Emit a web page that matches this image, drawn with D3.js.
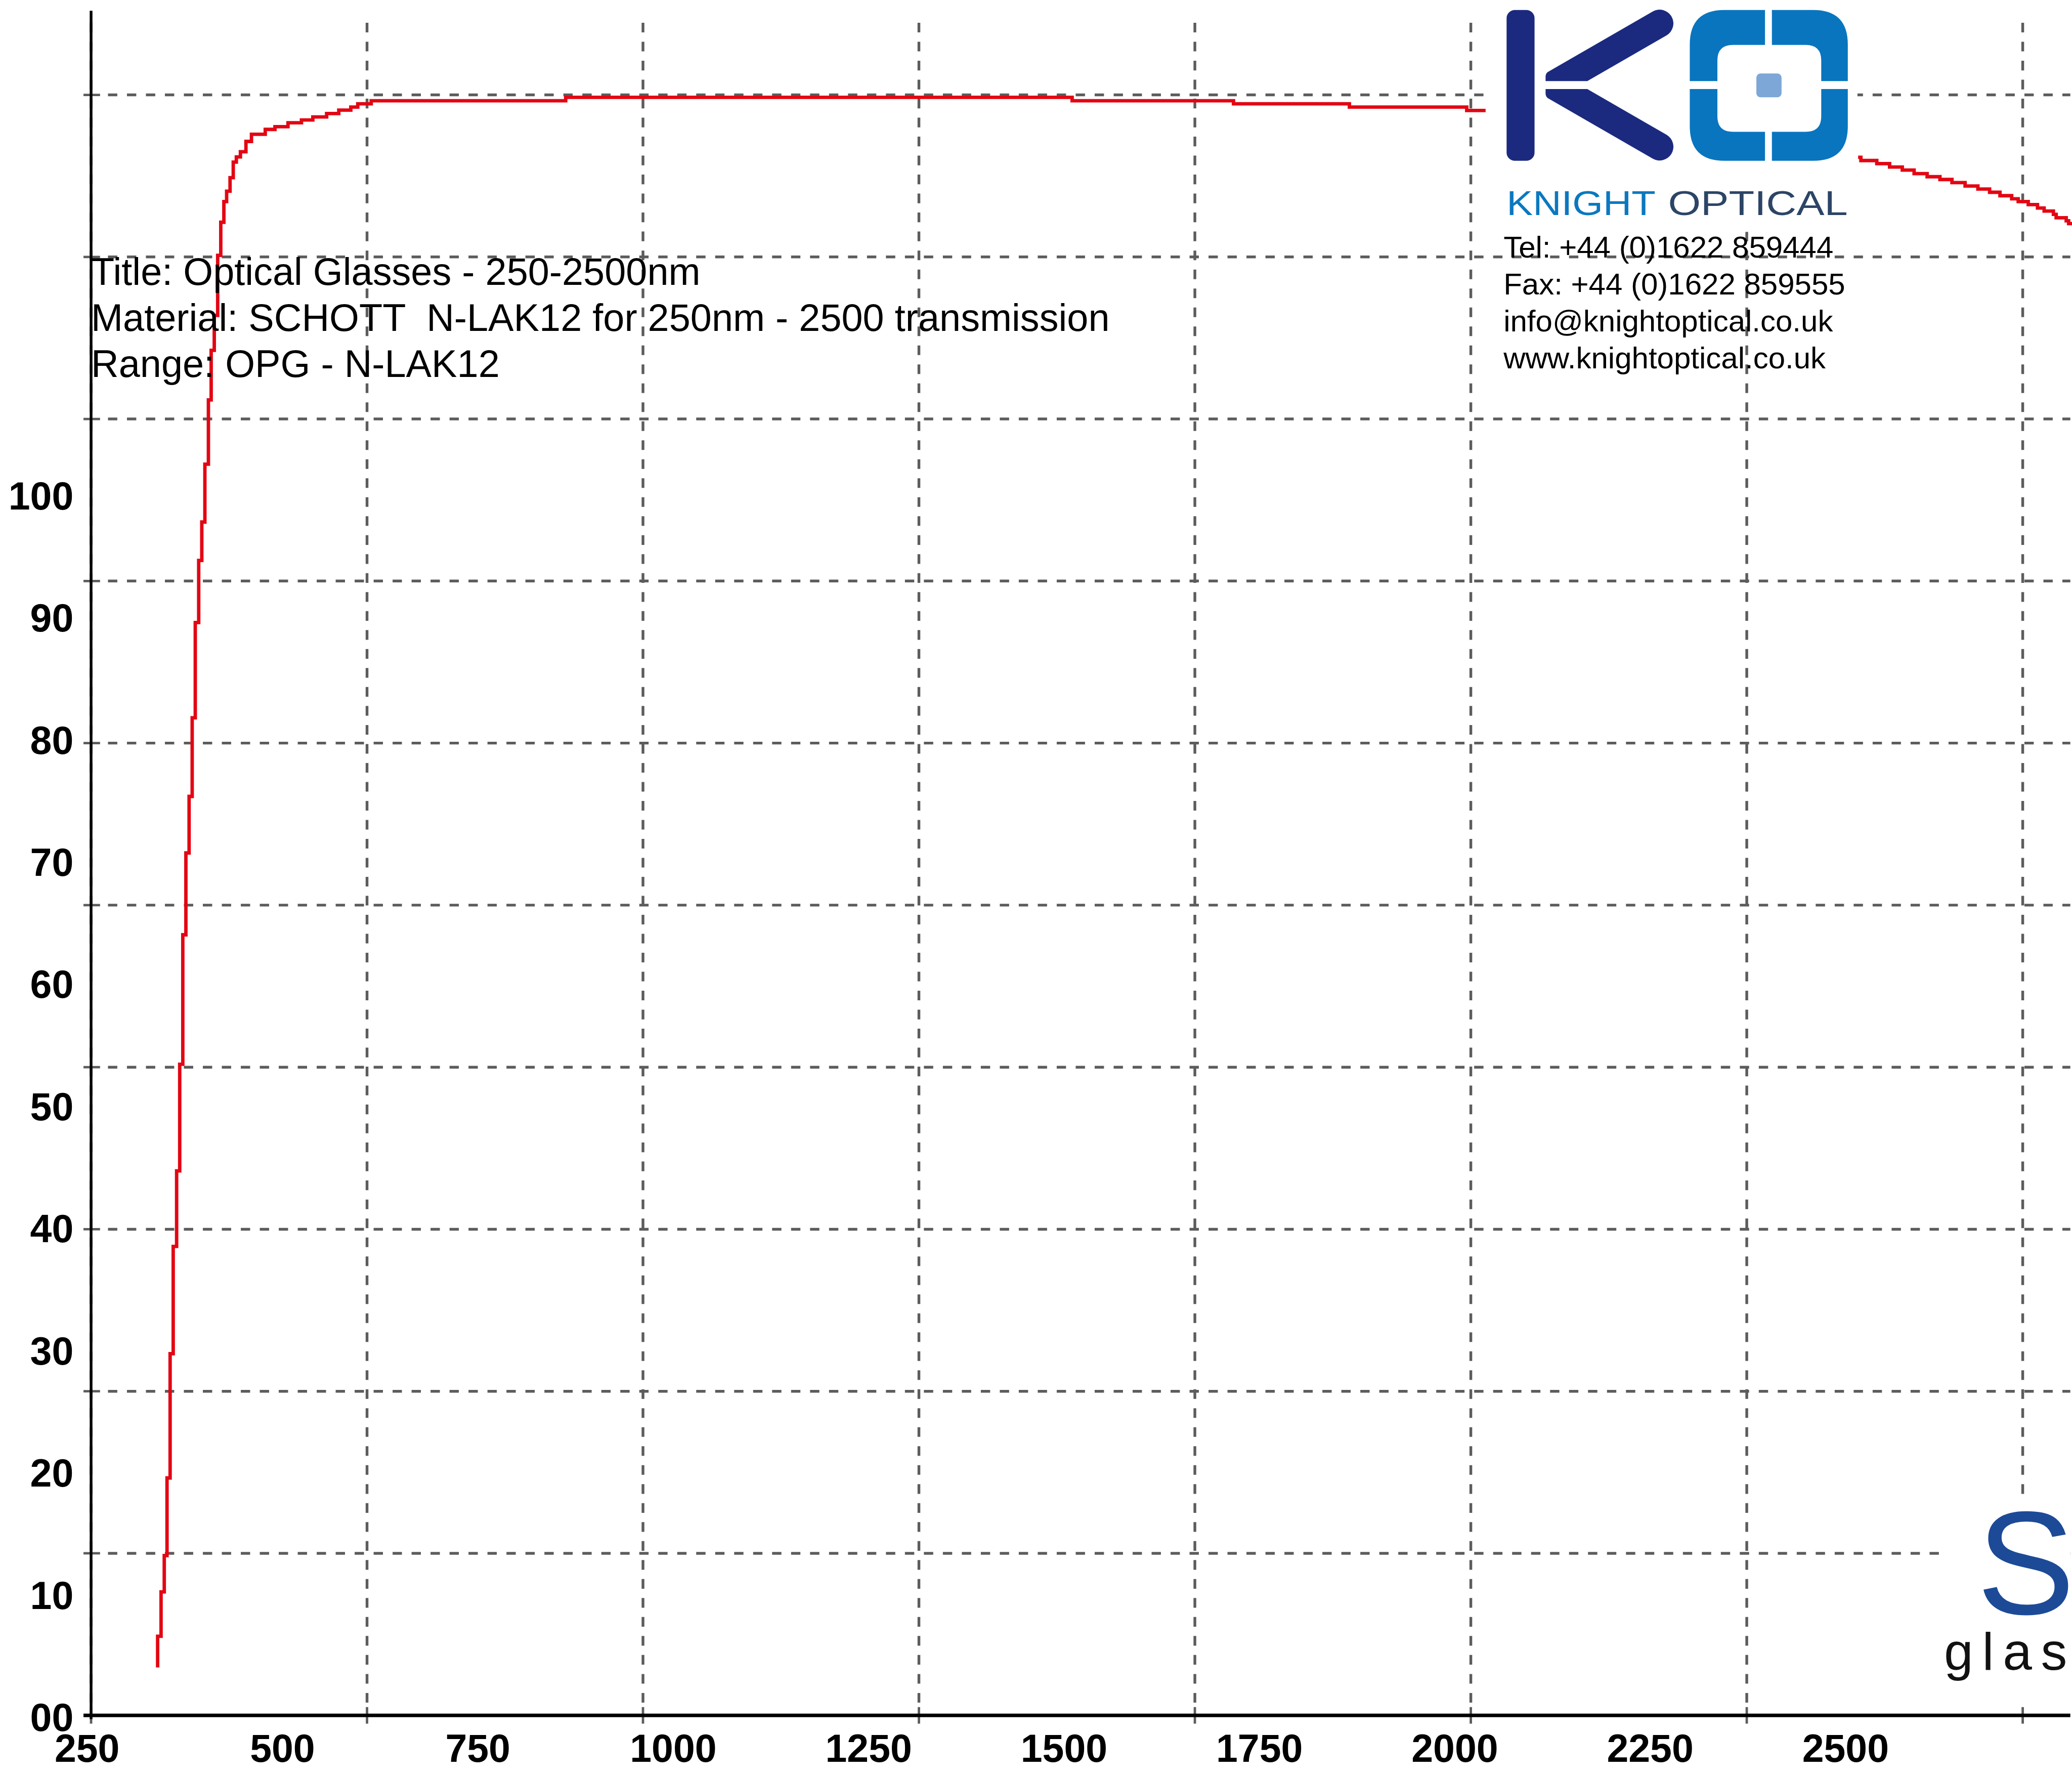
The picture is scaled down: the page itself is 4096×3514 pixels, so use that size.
<!DOCTYPE html>
<html lang="en">
<head>
<meta charset="UTF-8">
<title>N-LAK12 transmission</title>
<style>
  html, body { margin: 0; padding: 0; background: #fff; }
  svg { display: block; }
  text { font-family: "Liberation Sans", Arial, sans-serif; }
</style>
<script src="https://cdn.jsdelivr.net/npm/d3@7"></script>
</head>
<body>
<svg></svg>
<script>
// printed tick labels (they sit on their own spacing, not on the grid)
const xTickLabels = [250, 500, 750, 1000, 1250, 1500, 1750, 2000, 2250, 2500];
const yTickValues = [0, 10, 20, 30, 40, 50, 60, 70, 80, 90, 100];
const yTickLabels = ["00", "10", "20", "30", "40", "50", "60", "70", "80", "90", "100"];

// grid lines of the plot itself
const gridNm  = [250, 500, 750, 1000, 1250, 1500, 1750, 2000];
const gridPct = [10, 20, 30, 40, 50, 60, 70, 80, 90, 100];

// transmission curve, UV edge + flat part (nm, %)
const uvNm  = [310.3, 310.3, 313.4, 316.3, 318.8, 321.6, 324.4, 327.5, 330.3, 333.1, 335.9, 338.8,
               341.6, 344.4, 347.5, 350.3, 353.1, 356.3, 358.8, 361.6, 364.7, 367.5, 370.3, 372.8,
               375.9, 378.8, 381.6, 385.3, 390.3, 395.3, 407.8, 416.6, 428.4, 440.6, 450.9, 463.4,
               474.4, 485.3, 491.6, 503.8, 680, 1138.8, 1285, 1390, 1496.3, 1513.4];
const uvPct = [2.96, 4.88, 7.62, 9.86, 14.65, 22.32, 28.94, 33.60, 40.18, 48.17, 53.22, 56.71,
               61.56, 67.44, 71.27, 73.64, 77.21, 81.18, 84.24, 86.39, 90.10, 92.14, 93.42, 94.06,
               94.89, 95.85, 96.17, 96.49, 97.13, 97.57, 97.87, 98.04, 98.28, 98.45, 98.64, 98.85,
               99.06, 99.25, 99.45, 99.64, 99.85, 99.64, 99.45, 99.25, 99.04, 99.04];

// IR tail after the logo (nm, %)
const irNm  = [1850.9, 1853.4, 1867.8, 1879.4, 1890.9, 1901.6, 1913.4, 1925, 1935.9, 1947.8, 1959.4, 1970,
               1979.4, 1990, 1995.9, 2005, 2013.4, 2019.4, 2027.8, 2030.3, 2039.4, 2041.6, 2046];
const irPct = [96.15, 95.95, 95.76, 95.55, 95.36, 95.14, 94.95, 94.78, 94.59, 94.38, 94.19, 93.99,
               93.78, 93.59, 93.42, 93.23, 93.02, 92.83, 92.63, 92.42, 92.23, 92.06, 92.06];

const infoLines    = ["Title: Optical Glasses - 250-2500nm",
                      "Material: SCHOTT  N-LAK12 for 250nm - 2500 transmission",
                      "Range: OPG - N-LAK12"];
const contactLines = ["Tel: +44 (0)1622 859444", "Fax: +44 (0)1622 859555",
                      "info@knightoptical.co.uk", "www.knightoptical.co.uk"];

const K = 0.682;          // everything below is laid out in reference pixels
const GRID = '#5c5c5c';

const svg = d3.select('svg').attr('width', 4096).attr('height', 3514);
svg.append('rect').attr('width', 4096).attr('height', 3514).attr('fill', '#fff');
const root = svg.append('g').attr('transform', `scale(${K})`);

const x = d3.scaleLinear().domain([250, 2000]).range([264, 5863]);
const y = d3.scaleLinear().domain([0, 100]).range([4971, 275]);
const xLab = d3.scaleLinear().domain([250, 2500]).range([252, 5349]);
const yLab = d3.scaleLinear().domain([0, 100]).range([4975, 1435]);

// grid
const grid = root.append('g').attr('stroke', GRID).attr('stroke-width', 8);
grid.selectAll('.v').data(gridNm).join('line').attr('class', 'v')
    .attr('x1', d => x(d)).attr('x2', d => x(d))
    .attr('y1', 66).attr('y2', 4945)
    .attr('stroke-dasharray', '28 27');
grid.selectAll('.vt').data(gridNm).join('line').attr('class', 'vt')
    .attr('x1', d => x(d)).attr('x2', d => x(d))
    .attr('y1', 4947).attr('y2', 4995).attr('stroke-width', 7);
grid.selectAll('.h').data(gridPct).join('line').attr('class', 'h')
    .attr('x1', 313).attr('x2', 6001)
    .attr('y1', d => y(d)).attr('y2', d => y(d))
    .attr('stroke-dasharray', '27 28');
grid.selectAll('.ht').data(gridPct).join('line').attr('class', 'ht')
    .attr('x1', 242).attr('x2', 290)
    .attr('y1', d => y(d)).attr('y2', d => y(d)).attr('stroke-width', 7);

// white backing boxes of the pasted logos
root.append('rect').attr('x', 4312).attr('y', 0).attr('width', 1072).attr('height', 672).attr('fill', '#fff');
root.append('rect').attr('x', 5640).attr('y', 4350).attr('width', 361).attr('height', 596).attr('fill', '#fff');

// axes lines
root.append('line').attr('x1', 264).attr('x2', 264).attr('y1', 31).attr('y2', 4982)
    .attr('stroke', '#000').attr('stroke-width', 8);
root.append('line').attr('x1', 242).attr('x2', 6001).attr('y1', y(0)).attr('y2', y(0))
    .attr('stroke', '#000').attr('stroke-width', 10);

// curve
const line = d3.line().x(d => x(d[0])).y(d => y(d[1])).curve(d3.curveStepAfter);
root.selectAll('.curve').data([d3.zip(uvNm, uvPct), d3.zip(irNm, irPct)]).join('path')
    .attr('class', 'curve')
    .attr('d', line)
    .attr('fill', 'none')
    .attr('stroke', '#e30613')
    .attr('stroke-width', 10);

// tick labels
const xAxis = root.append('g').attr('transform', 'translate(0,5026)')
    .call(d3.axisBottom(xLab).tickValues(xTickLabels).tickFormat(d => String(d))
          .tickSize(0).tickPadding(0));
const yAxis = root.append('g').attr('transform', 'translate(213,0)')
    .call(d3.axisLeft(yLab).tickValues(yTickValues).tickFormat((d, i) => yTickLabels[i])
          .tickSize(0).tickPadding(0));
[xAxis, yAxis].forEach(a => {
  a.select('.domain').remove();
  a.selectAll('text')
    .attr('font-family', '"Liberation Sans", Arial, sans-serif')
    .attr('font-size', 113).attr('font-weight', 'bold').attr('fill', '#000');
});
yAxis.selectAll('text').attr('dy', '0.36em');

// description text
root.append('g').selectAll('text').data(infoLines).join('text')
    .attr('x', 264).attr('y', (d, i) => 825 + i * 134)
    .attr('font-size', 111).attr('fill', '#000')
    .style('white-space', 'pre')
    .text(d => d);

// Knight Optical logo
const ko = root.append('g');
ko.append('rect').attr('x', 4367).attr('y', 29).attr('width', 81).attr('height', 437).attr('rx', 24)
    .attr('fill', '#1b2a7f');
ko.append('path').attr('fill', '#1b2a7f')
    .attr('d', 'M4480,235 L4601,235 L4830.5,102.5 A40,40 0 0 0 4790.5,33.2 L4486,209 Q4480,214 4480,222 Z');
ko.append('path').attr('fill', '#1b2a7f')
    .attr('d', 'M4480,258 L4601,258 L4830.5,390.5 A40,40 0 0 1 4790.5,459.8 L4486,284 Q4480,279 4480,271 Z');
ko.append('path').attr('fill', '#0975bf').attr('fill-rule', 'evenodd')
    .attr('d', 'M4998,29 H5256 Q5356,29 5356,129 V366 Q5356,466 5256,466 H4998 Q4898,466 4898,366 V129 Q4898,29 4998,29 Z ' +
               'M5023,130 H5234 Q5279,130 5279,175 V337 Q5279,382 5234,382 H5023 Q4978,382 4978,337 V175 Q4978,130 5023,130 Z');
ko.append('rect').attr('x', 5116).attr('y', 20).attr('width', 20).attr('height', 460).attr('fill', '#fff');
ko.append('rect').attr('x', 4890).attr('y', 235).attr('width', 475).attr('height', 23).attr('fill', '#fff');
ko.append('rect').attr('x', 5091).attr('y', 213).attr('width', 73).attr('height', 69).attr('rx', 12)
    .attr('fill', '#7ca7d7');
ko.append('text').attr('x', 4367).attr('y', 623).attr('font-size', 100)
    .attr('font-family', '"DejaVu Sans", sans-serif')
    .attr('textLength', 432).attr('lengthAdjust', 'spacingAndGlyphs')
    .attr('fill', '#0b78c0').text('KNIGHT');
ko.append('text').attr('x', 4835).attr('y', 623).attr('font-size', 100)
    .attr('font-family', '"DejaVu Sans", sans-serif')
    .attr('textLength', 521).attr('lengthAdjust', 'spacingAndGlyphs')
    .attr('fill', '#2c4566').text('OPTICAL');

root.append('g').selectAll('text').data(contactLines).join('text')
    .attr('x', 4358).attr('y', (d, i) => 746 + i * 107)
    .attr('font-size', 88).attr('fill', '#000')
    .text(d => d);

// Schott logo, cut by the right edge
root.append('text').attr('x', 5730).attr('y', 4677)
    .attr('font-family', '"Open Sans", sans-serif').attr('font-size', 426)
    .attr('fill', '#1c4a97').text('SCHOTT');
root.append('text').attr('x', 5635).attr('y', 4838)
    .attr('font-family', '"Open Sans", sans-serif').attr('font-weight', 300)
    .attr('font-size', 152).attr('letter-spacing', 26)
    .attr('fill', '#111').text('glass');
</script>
</body>
</html>
